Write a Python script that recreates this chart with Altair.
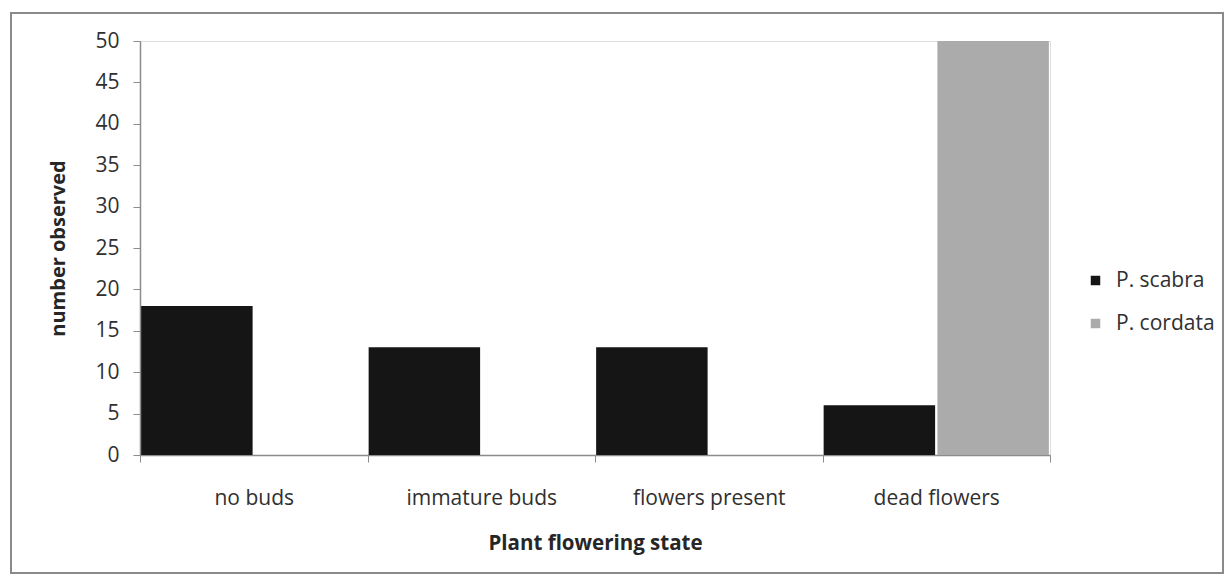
import altair as alt
import pandas as pd

categories = ["no buds", "immature buds", "flowers present", "dead flowers"]
series = ["P. scabra", "P. cordata"]
scabra = [18, 13, 13, 6]
cordata = [0, 0, 0, 50]
y_ticks = [0, 5, 10, 15, 20, 25, 30, 35, 40, 45, 50]

rows = []
for c, a, b in zip(categories, scabra, cordata):
    rows.append({"state": c, "species": series[0], "count": a})
    rows.append({"state": c, "species": series[1], "count": b})
df = pd.DataFrame(rows)

FONT = "Open Sans"
AXIS_GRAY = "#8c8c8c"
TEXT = "#303030"

bars = alt.Chart(df).mark_bar().encode(
    x=alt.X(
        "state:N",
        sort=categories,
        scale=alt.Scale(paddingInner=0, paddingOuter=0),
        axis=alt.Axis(
            title="Plant flowering state",
            labelAngle=0,
            labelFontSize=21,
            labelColor=TEXT,
            labelPadding=25,
            tickBand="extent",
            tickSize=7,
            tickColor=AXIS_GRAY,
            domainColor=AXIS_GRAY,
            domainWidth=1.5,
            titleFontSize=20.5,
            titleFontWeight="bold",
            titleColor="#262626",
            titlePadding=25,
        ),
    ),
    xOffset=alt.XOffset("species:N", sort=series, scale=alt.Scale(paddingInner=0.02, paddingOuter=0.01)),
    y=alt.Y(
        "count:Q",
        scale=alt.Scale(domain=[0, 50], nice=False),
        axis=alt.Axis(
            title="number observed",
            values=y_ticks,
            grid=False,
            labelFontSize=21,
            labelColor=TEXT,
            labelPadding=14,
            tickSize=7,
            tickColor=AXIS_GRAY,
            domainColor=AXIS_GRAY,
            domainWidth=1.5,
            titleFontSize=20,
            titleFontWeight="bold",
            titleColor="#262626",
            titlePadding=26,
        ),
    ),
    color=alt.Color(
        "species:N",
        sort=series,
        scale=alt.Scale(domain=series, range=["#151515", "#ababab"]),
        legend=alt.Legend(
            title=None,
            orient="none",
            legendX=945,
            legendY=229,
            symbolType="square",
            symbolSize=90,
            symbolStrokeWidth=0,
            labelFontSize=21,
            labelColor=TEXT,
            labelOffset=10,
            rowPadding=21,
            padding=0,
        ),
    ),
)

frame_df = pd.DataFrame({"k": [1]})
frame = alt.Chart(frame_df).mark_rect(
    filled=False, stroke="#8a8a8a", strokeWidth=2
).encode(
    x=alt.value(-129), x2=alt.value(1083), y=alt.value(-28), y2=alt.value(532)
)

chart = alt.layer(frame, bars).properties(
    width=910,
    height=414,
    autosize=alt.AutoSizeParams(type="none"),
    padding={"left": 132, "top": 33, "right": 174, "bottom": 119},
    background="white",
).configure_view(stroke=None).configure(font=FONT)

chart.save("out.html", embed_options={"renderer": "svg", "actions": False})
